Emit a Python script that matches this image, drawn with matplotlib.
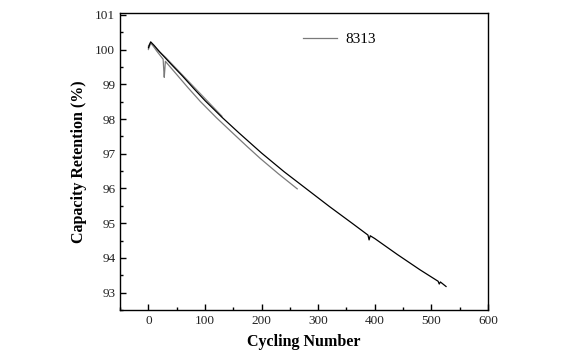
import numpy as np
import matplotlib
matplotlib.use("Agg")
import matplotlib.pyplot as plt
from matplotlib.ticker import MultipleLocator

plt.rcParams['font.family'] = ['Liberation Serif', 'DejaVu Serif']

# long run (black)
cyc_a = [0, 4, 10, 20, 40, 60, 80, 100, 130, 160, 200, 240, 280, 320, 360,
         388, 390, 392, 400, 440, 480, 512, 514, 516, 526]
cap_a = [100.05, 100.22, 100.12, 99.93, 99.58, 99.24, 98.88, 98.53, 98.05, 97.6,
         97.02, 96.48, 95.98, 95.48, 95.0, 94.66, 94.52, 94.64, 94.56, 94.1,
         93.66, 93.33, 93.25, 93.31, 93.18]

# short run with dip (grey)
cyc_b = [0, 4, 15, 26, 27, 28, 30, 50, 70, 92, 120, 150, 175, 198, 230, 263]
cap_b = [100.1, 100.2, 99.95, 99.72, 99.45, 99.2, 99.66, 99.28, 98.9, 98.5,
         98.04, 97.58, 97.2, 96.86, 96.42, 95.99]

# second grey run, close to black
cyc_c = [0, 4, 15, 30, 50, 70, 90, 110, 130]
cap_c = [100.0, 100.18, 100.0, 99.78, 99.44, 99.1, 98.76, 98.42, 98.08]

legend_label = '8313'

fig = plt.figure(figsize=(5.72, 3.52), dpi=100)
ax = fig.add_axes([0.21, 0.119, 0.643, 0.844])

ax.plot(cyc_b, cap_b, color='#7a7a7a', lw=0.9, label=legend_label)
ax.plot(cyc_c, cap_c, color='#8a8a8a', lw=0.9)
ax.plot(cyc_a, cap_a, color='black', lw=0.9)

ax.set_xlim(-50, 600)
ax.set_ylim(92.5, 101.05)
ax.xaxis.set_major_locator(MultipleLocator(100))
ax.xaxis.set_minor_locator(MultipleLocator(50))
ax.yaxis.set_major_locator(MultipleLocator(1))
ax.yaxis.set_minor_locator(MultipleLocator(0.5))
ax.tick_params(which='both', direction='in', top=False, right=False,
               labelsize=9.5, labelcolor='#222222')
ax.tick_params(which='major', length=4, width=1)
ax.tick_params(which='minor', length=2.5, width=1)
for s in ax.spines.values():
    s.set_linewidth(1)

ax.set_xlabel('Cycling Number', fontsize=11.5, fontweight='bold', labelpad=5)
ax.set_ylabel('Capacity Retention (%)', fontsize=11.5, fontweight='bold', labelpad=6)

ax.legend(loc='upper left', bbox_to_anchor=(0.46, 0.98), frameon=False,
          fontsize=11, handlelength=2.2, handletextpad=0.6)

fig.savefig('out.png', dpi=100)
